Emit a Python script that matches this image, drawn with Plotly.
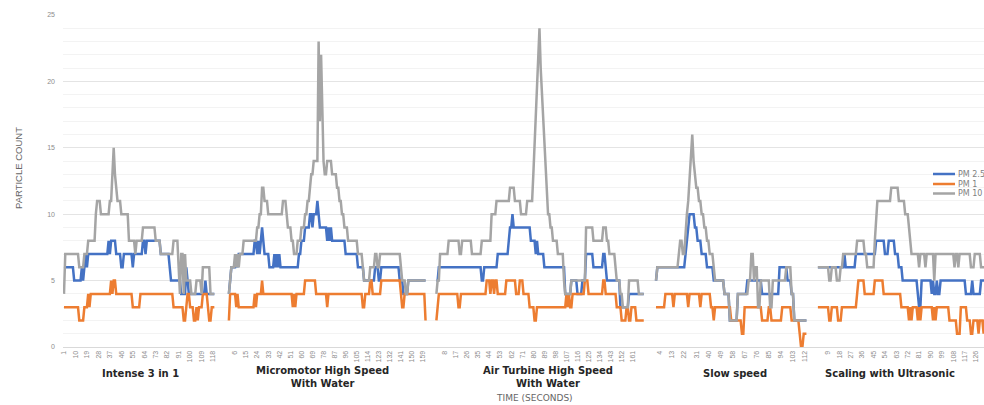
import plotly.graph_objects as go

# ---------------- data (run-length: (value, last local index of run)) ----------------
GROUPS = ["Intense 3 in 1", "Micromotor High Speed<br>With Water",
          "Air Turbine High Speed<br>With Water", "Slow speed", "Scaling with Ultrasonic"]
SERIES = ["PM 2.5", "PM 1", "PM 10"]

pm25_runs = [
    [(6,8),(5,14),(6,15),(5,16),(6,17),(7,18),(6,19),(7,35),(8,36),(7,37),(8,41),(7,45),(6,47),(7,54),(6,55),
     (7,62),(8,64),(7,65),(8,76),(7,83),(6,84),(5,92),(4,96),(6,97),(5,98),(4,111),(5,112),(4,119)],
    [(4,1),(5,2),(6,6),(7,7),(6,8),(7,21),(8,23),(7,24),(8,25),(7,26),(8,27),(9,28),(8,29),(7,33),(6,37),(7,38),
     (6,39),(7,40),(6,41),(7,42),(6,57),(7,59),(8,62),(9,66),(10,68),(9,69),(10,72),(11,73),(10,74),(9,80),(8,81),
     (9,82),(8,83),(9,84),(8,95),(7,105),(6,110),(5,119),(6,122),(5,124),(6,139),(5,142),(4,146),(5,161)],
    [(5,2),(6,37),(5,39),(6,50),(7,59),(8,60),(9,62),(10,63),(9,77),(8,81),(7,82),(8,83),(7,88),(6,105),(4,110),
     (5,115),(4,119),(5,122),(7,128),(6,136),(7,138),(6,139),(5,150),(3,157),(4,170)],
    [(5,1),(6,22),(7,23),(8,24),(9,25),(10,29),(9,31),(8,34),(7,38),(6,43),(5,51),(4,55),(2,61),(4,68),(5,79),
     (4,92),(6,98),(5,101),(4,103),(2,113)],
    [(6,21),(7,22),(6,30),(7,46),(8,53),(7,56),(8,61),(7,64),(6,67),(5,79),(4,80),(3,82),(5,90),(4,91),(5,92),
     (4,94),(5,95),(4,97),(5,117),(4,122),(5,123),(4,129),(5,134)],
]
pm1_runs = [
    [(3,12),(2,16),(3,19),(4,20),(3,21),(4,37),(5,38),(4,39),(5,41),(4,54),(3,60),(4,86),(3,94),(2,96),(3,97),
     (4,99),(3,102),(2,104),(3,105),(2,106),(3,109),(4,113),(3,114),(2,116),(3,119)],
    [(2,1),(4,6),(3,7),(4,8),(3,21),(4,22),(3,23),(4,27),(5,28),(4,52),(3,53),(4,54),(3,55),(4,62),(5,71),(4,80),
     (3,81),(4,109),(3,111),(4,115),(5,117),(4,124),(5,140),(4,141),(3,143),(4,160),(2,161)],
    [(2,1),(3,2),(4,18),(3,20),(4,41),(5,44),(4,45),(5,47),(4,48),(5,50),(4,57),(5,65),(4,68),(5,71),(4,76),
     (3,80),(2,82),(3,106),(4,107),(3,108),(4,109),(3,111),(4,121),(5,124),(4,136),(5,138),(4,147),(3,151),
     (2,155),(3,157),(2,159),(3,163),(2,170)],
    [(3,7),(4,13),(3,14),(4,24),(3,25),(4,33),(3,34),(4,41),(3,43),(2,44),(3,56),(2,64),(1,66),(3,79),(2,84),
     (3,86),(2,94),(3,101),(2,107),(1,108),(0,110),(1,113)],
    [(3,9),(2,11),(3,16),(2,19),(3,31),(4,32),(5,37),(4,45),(5,52),(4,66),(3,72),(2,73),(3,74),(2,75),(3,79),
     (2,80),(3,81),(2,82),(3,91),(2,92),(3,93),(2,94),(3,104),(2,110),(1,113),(3,118),(2,121),(1,123),(2,127),
     (1,128),(2,131),(1,132),(2,134)],
]
pm10_runs = [
    [(4,1),(7,12),(6,16),(7,19),(8,25),(10,26),(11,29),(10,36),(11,38),(13,39),(15,40),(13,41),(12,42),(11,45),
     (10,51),(8,56),(7,57),(8,62),(9,72),(8,76),(7,86),(8,90),(6,91),(4,92),(7,94),(4,95),(7,96),(5,100),(4,104),
     (5,108),(4,109),(6,115),(4,119)],
    [(4,1),(5,2),(6,5),(7,6),(6,7),(7,8),(6,9),(7,12),(8,23),(9,25),(10,27),(12,29),(11,32),(10,44),(11,47),
     (10,48),(9,51),(8,53),(7,56),(8,59),(9,62),(10,64),(11,66),(12,67),(13,69),(14,73),(23,74),(17,75),(22,76),
     (17,77),(14,78),(13,80),(14,84),(13,88),(12,90),(11,92),(10,94),(9,97),(8,105),(7,109),(6,110),(5,115),
     (6,119),(7,121),(6,123),(7,140),(6,141),(5,144),(4,146),(5,161)],
    [(4,1),(5,3),(7,10),(8,19),(7,21),(8,29),(7,37),(8,45),(10,49),(11,60),(12,64),(11,69),(10,74),(11,79),
     (13,80),(15,81),(17,82),(20,83),(22,84),(24,85),(21,86),(19,87),(17,88),(15,89),(13,90),(11,91),(10,93),
     (9,95),(8,99),(7,104),(5,105),(4,110),(5,122),(9,128),(8,136),(9,139),(8,141),(7,146),(6,147),(5,150),
     (4,152),(3,157),(5,165),(4,170)],
    [(5,1),(6,17),(7,18),(8,20),(7,22),(9,23),(10,24),(11,25),(13,26),(14,27),(16,28),(14,29),(13,30),(12,32),
     (11,34),(10,36),(9,38),(8,40),(7,43),(6,44),(5,51),(4,55),(2,61),(4,69),(5,71),(7,73),(5,74),(6,76),(3,78),
     (5,85),(3,87),(5,97),(6,101),(4,103),(2,113)],
    [(6,9),(5,11),(6,15),(5,18),(6,20),(7,31),(8,37),(7,39),(6,45),(8,46),(10,47),(11,58),(12,64),(11,69),
     (10,72),(9,73),(8,74),(7,80),(6,81),(7,85),(6,86),(7,92),(5,93),(7,108),(6,109),(7,111),(6,112),(7,121),
     (6,124),(7,129),(6,134)],
]
TICK_FIRST = [1, 6, 8, 4, 9]
TICK_LAST = [118, 159, 161, 112, 126]
TICK_STEP = 9

# ---------------- layout constants ----------------
W, H = 984, 405
ML, MR, MT, MB = 63, 0, 15, 58
GROUP_X0 = [64.0, 228.9, 436.4, 656.0, 817.9]      # axis position of local index 1
GROUP_DX = [1.274, 1.229, 1.227, 1.343, 1.265]     # axis units per second
GROUP_LABEL_X = [140, 322, 548, 735, 890]
COLORS = {"PM 2.5": "#4472C4", "PM 1": "#ED7D31", "PM 10": "#A5A5A5"}
FONT = "Liberation Sans, Arial, sans-serif"
WIDE = "DejaVu Sans, Verdana, sans-serif"


def expand(runs):
    vals, start = [], 1
    for v, end in runs:
        vals.extend([v] * (end - start + 1))
        start = end + 1
    return vals


def pos(g, i):
    return GROUP_X0[g] + (i - 1) * GROUP_DX[g]


def py2paper(py):
    return (H - MB - py) / (H - MT - MB)


def px2paper(px):
    return (px - ML) / (W - ML - MR)


fig = go.Figure()
for name, runs_all in zip(SERIES, [pm25_runs, pm1_runs, pm10_runs]):
    xs, ys = [], []
    for g, runs in enumerate(runs_all):
        vals = expand(runs)
        xs += [pos(g, i + 1) for i in range(len(vals))] + [None]
        ys += vals + [None]
    fig.add_trace(go.Scatter(x=xs, y=ys, mode="lines", name=name, showlegend=False,
                             connectgaps=False,
                             line=dict(color=COLORS[name], width=2.5)))

tickvals, ticktext = [], []
for g in range(len(GROUPS)):
    for t in range(TICK_FIRST[g], TICK_LAST[g] + 1, TICK_STEP):
        tickvals.append(pos(g, t))
        ticktext.append(str(t))

fig.update_xaxes(range=[ML, W - MR], tickmode="array", tickvals=tickvals, ticktext=ticktext,
                 tickangle=-90, tickfont=dict(size=7, color="#8c8c8c", family=FONT),
                 showgrid=False, zeroline=False, showline=True, linecolor="#d9d9d9",
                 ticks="", fixedrange=True)
fig.update_yaxes(range=[0, 25], dtick=5, tickfont=dict(size=7, color="#8c8c8c", family=FONT),
                 showgrid=True, gridcolor="#e4e4e4", gridwidth=1, zeroline=False,
                 minor=dict(dtick=1, showgrid=True, gridcolor="#f3f3f3", gridwidth=1),
                 ticklabelstandoff=7, fixedrange=True)

annotations = []
for g, name in enumerate(GROUPS):
    two = "<br>" in name
    annotations.append(dict(x=GROUP_LABEL_X[g], y=py2paper(377 if two else 374), xref="x", yref="paper",
                            text="<b>" + name + "</b>", showarrow=False, xanchor="center", yanchor="middle",
                            font=dict(size=10, color="#262626", family=WIDE)))
annotations.append(dict(x=534, y=py2paper(398), xref="x", yref="paper", text="TIME (SECONDS)",
                        showarrow=False, xanchor="center", yanchor="middle",
                        font=dict(size=9, color="#666666", family=WIDE)))
annotations.append(dict(x=px2paper(18), y=py2paper(168), xref="paper", yref="paper", text="PARTICLE COUNT",
                        showarrow=False, textangle=-90, xanchor="center", yanchor="middle",
                        font=dict(size=9.5, color="#666666", family=FONT)))

# legend (manual, to keep the tight Excel spacing)
shapes = []
LEG_Y = [174, 184, 193.5]
for name, ly in zip(SERIES, LEG_Y):
    shapes.append(dict(type="line", xref="x", yref="paper", x0=933, x1=955,
                       y0=py2paper(ly), y1=py2paper(ly), line=dict(color=COLORS[name], width=2.5)))
    annotations.append(dict(x=956, y=py2paper(ly), xref="x", yref="paper", text=name, showarrow=False,
                            xanchor="left", yanchor="middle",
                            font=dict(size=8, color="#7f7f7f", family=WIDE)))

fig.update_layout(width=W, height=H, margin=dict(l=ML, r=MR, t=MT, b=MB, autoexpand=False),
                  paper_bgcolor="white", plot_bgcolor="white", annotations=annotations, shapes=shapes,
                  font=dict(family=FONT))
fig.write_html("out.html", config={"displayModeBar": False, "staticPlot": True},
               post_script="document.body.style.margin='0';document.body.style.overflow='hidden';")
